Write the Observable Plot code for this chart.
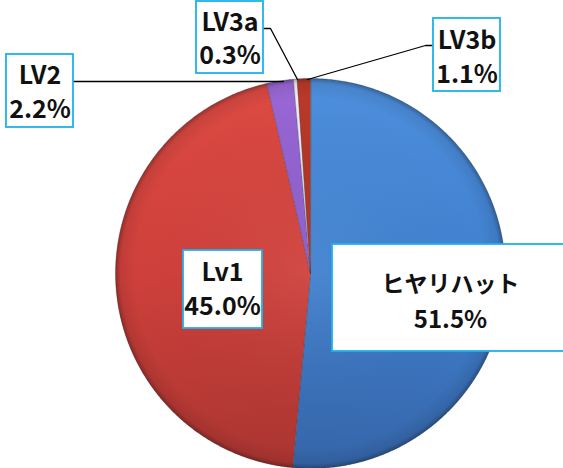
<!DOCTYPE html>
<html><head><meta charset="utf-8">
<script src="https://cdn.jsdelivr.net/npm/d3@7"></script>
<script src="https://cdn.jsdelivr.net/npm/@observablehq/plot@0.6"></script>
<style>html,body{margin:0;padding:0;background:#fff;overflow:hidden}</style>
</head><body><div id="chart"></div>
<script>
// ---- data ----
const categories = ["ヒヤリハット", "Lv1", "LV2", "LV3a", "LV3b"];
const shares = [51.5, 45.0, 2.2, 0.3, 1.1];

// ---- styles ----
const gradStops = [
  ["#4d8fdc", "#4080cf", "#3565a8"],
  ["#dc4a43", "#cf403b", "#aa3531"],
  ["#9a68d6", "#8a5ac8", "#7448ae"],
  ["#f0f0f0", "#e4e4e4", "#d6d6d6"],
  ["#bb3a2a", "#a83022", "#8c261b"]
];
const W = 563, H = 468, CX = 310, CY = 273, R = 195;
const px = v => (v - CX) / R;
const py = v => (CY - v) / R;

// ---- layout of the label boxes (pixels) ----
const labelLayout = [
  {box: [332, 244, 580, 351], cx: 450, b1: 291, b2: 327, s1: 23, s2: 24},
  {box: [183, 250, 262, 328], cx: 222, b1: 280, b2: 314, s1: 25, s2: 25},
  {box: [6, 54, 73, 127], cx: 39.5, b1: 83, b2: 117, s1: 25, s2: 25},
  {box: [196, 1, 263, 73], cx: 229.5, b1: 30, b2: 63, s1: 25, s2: 25},
  {box: [433, 18, 500, 91], cx: 466.5, b1: 48, b2: 82, s1: 25, s2: 25}
];
const leaders = [
  {name: "LV2", pts: [[73, 81], [283, 81]]},
  {name: "LV3a", pts: [[263, 28], [270, 28], [297, 79]]},
  {name: "LV3b", pts: [[433, 45], [425, 45], [307, 79]]}
];

// ---- slice geometry from data ----
const total = d3.sum(shares);
const slicePts = [];
let acc = 0;
categories.forEach((c, i) => {
  const a0 = acc / total * 2 * Math.PI;
  acc += shares[i];
  const a1 = acc / total * 2 * Math.PI;
  const n = Math.max(2, Math.ceil((a1 - a0) / (Math.PI / 360)));
  slicePts.push({name: c, x: 0, y: 0});
  for (let k = 0; k <= n; k++) {
    const a = a0 + (a1 - a0) * k / n;
    slicePts.push({name: c, x: Math.sin(a), y: Math.cos(a)});
  }
});

const boxes = labelLayout.map((l, i) => ({
  name: categories[i],
  x1: px(l.box[0]), x2: px(l.box[2]), y1: py(l.box[1]), y2: py(l.box[3])
}));
const textLines = [];
labelLayout.forEach((l, i) => {
  textLines.push({t: categories[i], x: px(l.cx), y: py(l.b1), s: l.s1});
  textLines.push({t: shares[i].toFixed(1) + "%", x: px(l.cx), y: py(l.b2), s: l.s2});
});
const leaderPts = leaders.flatMap(d => d.pts.map(p => ({name: d.name, x: px(p[0]), y: py(p[1])})));

const font = "'Noto Sans CJK JP', 'Open Sans', sans-serif";

const chart = Plot.plot({
  width: W, height: H,
  margin: 0,
  style: {fontFamily: font, background: "#fff", overflow: "hidden"},
  x: {domain: [px(0), px(W)], axis: null},
  y: {domain: [py(H), py(0)], axis: null},
  color: {type: "ordinal", domain: categories, range: categories.map((c, i) => `url(#g${i})`)},
  marks: [
    Plot.line(slicePts, {x: "x", y: "y", z: "name", fill: "name", stroke: "rgba(40,40,60,0.35)", strokeWidth: 0.8, curve: "linear-closed"}),
    Plot.line(slicePts, {x: "x", y: "y", z: "name", fill: "url(#shade)", stroke: "none", curve: "linear-closed"}),
    Plot.line(leaderPts, {x: "x", y: "y", z: "name", stroke: "#000", strokeWidth: 1.3}),
    Plot.rect(boxes, {x1: "x1", x2: "x2", y1: "y1", y2: "y2", fill: "#fff", stroke: "#1db2ea", strokeWidth: 1.8}),
    ...[23, 24, 25].map(s => Plot.text(textLines.filter(d => d.s === s), {
      x: "x", y: "y", text: "t", fontSize: s, fontWeight: "bold", fill: "#111",
      textAnchor: "middle", lineAnchor: "bottom"
    }))
  ]
});

// gradients
const ns = "http://www.w3.org/2000/svg";
const defs = document.createElementNS(ns, "defs");
gradStops.forEach((st, i) => {
  const g = document.createElementNS(ns, "linearGradient");
  g.setAttribute("id", "g" + i);
  g.setAttribute("gradientUnits", "userSpaceOnUse");
  g.setAttribute("x1", 0); g.setAttribute("x2", 0);
  g.setAttribute("y1", CY - R); g.setAttribute("y2", CY + R);
  [[0, st[0]], [0.5, st[1]], [1, st[2]]].forEach(([o, c]) => {
    const s = document.createElementNS(ns, "stop");
    s.setAttribute("offset", o); s.setAttribute("stop-color", c);
    g.appendChild(s);
  });
  defs.appendChild(g);
});
const rg = document.createElementNS(ns, "radialGradient");
rg.setAttribute("id", "shade");
rg.setAttribute("gradientUnits", "userSpaceOnUse");
rg.setAttribute("cx", CX); rg.setAttribute("cy", CY); rg.setAttribute("r", R);
[[0, "rgba(255,255,255,0.06)"], [0.9, "rgba(0,0,0,0)"], [0.975, "rgba(0,0,0,0.08)"], [1, "rgba(0,0,0,0.3)"]].forEach(([o, c]) => {
  const s = document.createElementNS(ns, "stop");
  s.setAttribute("offset", o); s.setAttribute("stop-color", c);
  rg.appendChild(s);
});
defs.appendChild(rg);
chart.insertBefore(defs, chart.firstChild);

document.getElementById("chart").appendChild(chart);
</script>
</body></html>
